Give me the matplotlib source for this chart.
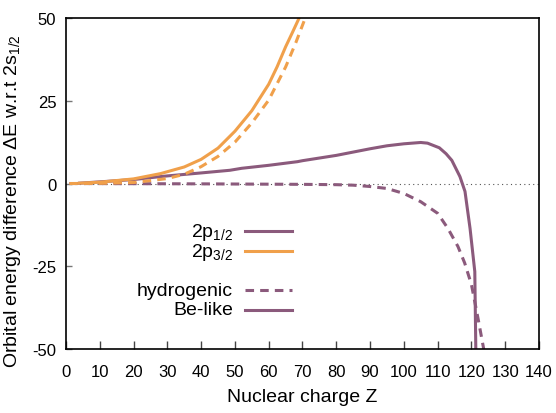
import matplotlib
matplotlib.use('Agg')
import matplotlib.pyplot as plt

plt.rcParams['font.family'] = ['Liberation Sans', 'DejaVu Sans']
plt.rcParams['mathtext.fontset'] = 'custom'
plt.rcParams['mathtext.rm'] = 'Liberation Sans'
plt.rcParams['mathtext.it'] = 'Liberation Sans:italic'
plt.rcParams['axes.unicode_minus'] = False

purple = '#8b5a7c'
orange = '#f0a04b'

# 2p1/2, hydrogenic
z_h12 = [1, 20, 40, 60, 70, 80, 85, 90, 95, 100, 105, 110, 113, 116, 118, 120, 122, 124]
e_h12 = [0, -0.05, -0.1, -0.2, -0.25, -0.35, -0.5, -0.9, -1.5, -3.0, -5.5, -9.0, -13.5,
         -19.0, -24.0, -30.5, -41.0, -52.0]

# 2p1/2, Be-like
z_b12 = [4, 10, 20, 28, 30, 40, 48.5, 52, 60, 68.5, 70, 80, 88, 90, 95, 100, 105, 107,
         110.5, 112.5, 114.2, 116.6, 118.1, 119.6, 121, 121.3]
e_b12 = [0.1, 0.5, 1.2, 2.1, 2.3, 3.2, 4.0, 4.6, 5.5, 6.6, 6.9, 8.5, 10.1, 10.5, 11.4,
         12.0, 12.4, 12.2, 10.8, 9.0, 7.0, 2.1, -2.4, -13.6, -26.6, -50.0]

# 2p3/2, hydrogenic
z_h32 = [1, 10, 20, 30, 35, 40, 45, 50, 55, 60, 65, 68, 71]
e_h32 = [0, 0.05, 0.3, 1.5, 2.8, 5.1, 8.2, 12.5, 18.3, 25.2, 35.2, 42.5, 50.5]

# 2p3/2, Be-like
z_b32 = [4, 10, 20, 28, 35, 40, 45, 50, 55, 60, 62.5, 65, 67, 69, 70]
e_b32 = [0.1, 0.4, 1.4, 3.0, 5.0, 7.3, 10.7, 15.8, 22.0, 30.0, 35.3, 41.3, 45.6, 50.0, 52.5]

fig = plt.figure(figsize=(5.56, 4.14), dpi=100)
ax = fig.add_axes([0.1187, 0.1546, 0.8507, 0.7994])

ax.axhline(0, color='#555555', lw=0.8, ls=(0, (1, 3)), zorder=1)

dash = (0, (2.8, 2.0))
ax.plot(z_h12, e_h12, color=purple, lw=2.2, ls=dash)
ax.plot(z_b12, e_b12, color=purple, lw=2.2)
ax.plot(z_h32, e_h32, color=orange, lw=2.2, ls=dash)
ax.plot(z_b32, e_b32, color=orange, lw=2.2)

ax.set_xlim(0, 140)
ax.set_ylim(-50, 50)
ax.set_xticks(range(0, 141, 10))
ax.set_yticks([-50, -25, 0, 25, 50])
ax.tick_params(axis='x', direction='in', length=6, width=1, color='#444444',
               labelsize=12, pad=11)
ax.tick_params(axis='y', direction='in', length=4.5, width=1, color='#777777',
               labelsize=12, pad=7)
for s in ax.spines.values():
    s.set_linewidth(1.2)

ax.set_xlabel('Nuclear charge Z', fontsize=14, labelpad=6)
ax.set_ylabel(r'Orbital energy difference ΔE w.r.t 2s$_\mathregular{1/2}$', fontsize=14)
ax.yaxis.set_label_coords(-0.09, 0.45)

# key, right-aligned text with sample line after it
key = [(0.356, r'2p$_\mathregular{1/2}$', purple, '-'),
       (0.296, r'2p$_\mathregular{3/2}$', orange, '-'),
       (0.178, 'hydrogenic', purple, dash),
       (0.118, 'Be-like', purple, '-')]
for y, label, c, ls in key:
    ax.text(0.353, y, label, transform=ax.transAxes, ha='right', va='center', fontsize=14)
    ax.plot([0.378, 0.478], [y, y], transform=ax.transAxes, color=c, lw=2.2, ls=ls)

fig.savefig('out.png', dpi=100)
